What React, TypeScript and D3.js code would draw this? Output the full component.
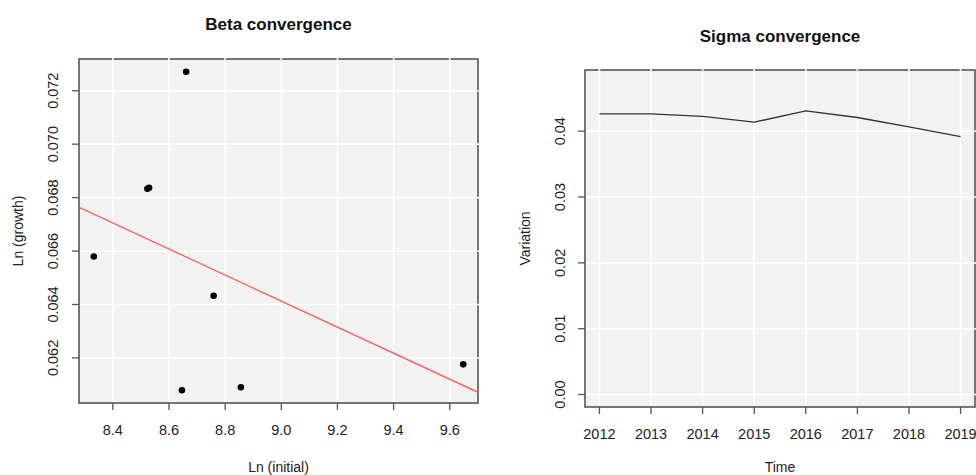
import React from 'react';
import * as d3 from 'd3';

const width = 976;
const height = 475;

// Beta convergence: ln(initial) vs ln(growth)
const betaInitial = [8.332, 8.523, 8.529, 8.646, 8.661, 8.759, 8.856, 9.648];
const betaGrowth = [0.065795, 0.06833, 0.068365, 0.06079, 0.07271, 0.064328, 0.0609, 0.06176];
const betaXTicks = [8.4, 8.6, 8.8, 9.0, 9.2, 9.4, 9.6];
const betaYTicks = [0.062, 0.064, 0.066, 0.068, 0.070, 0.072];

// Sigma convergence: variation per year
const sigmaYears = [2012, 2013, 2014, 2015, 2016, 2017, 2018, 2019];
const sigmaVariation = [0.04263, 0.04263, 0.04224, 0.04137, 0.04309, 0.04208, 0.04066, 0.03919];
const sigmaYTicks = [0, 0.01, 0.02, 0.03, 0.04];

const font = '"Liberation Sans", Arial, sans-serif';
const bg = '#f2f2f2';
const boxColor = '#555';
const textColor = '#222';

// R style 4% padding on each end
const pad = (lo: number, hi: number): [number, number] => {
  const r = (hi - lo) * 0.04;
  return [lo - r, hi + r];
};

// least squares fit for the red line
function fitLine(xs: number[], ys: number[]) {
  const mx = d3.mean(xs)!;
  const my = d3.mean(ys)!;
  let sxy = 0, sxx = 0;
  xs.forEach((x, i) => {
    sxy += (x - mx) * (ys[i] - my);
    sxx += (x - mx) * (x - mx);
  });
  const b = sxy / sxx;
  return { a: my - b * mx, b };
}

type Box = { x0: number; x1: number; y0: number; y1: number };

function Frame({ box, x, y, xTicks, yTicks, xFmt, yFmt, title, titleY, xLabel, yLabel, yLabelX, yTickX, children }: any) {
  const b: Box = box;
  return (
    <g fontFamily={font}>
      <rect x={b.x0} y={b.y0} width={b.x1 - b.x0} height={b.y1 - b.y0} fill={bg} />
      <rect x={b.x0} y={b.y0} width={b.x1 - b.x0} height={b.y1 - b.y0} fill="none" stroke={boxColor} strokeWidth={1.6} />
      {xTicks.map((t: number) => (
        <line key={'gx' + t} x1={x(t)} x2={x(t)} y1={b.y0 - 1} y2={b.y1 - 1} stroke="#fff" strokeWidth={1.6} />
      ))}
      {yTicks.map((t: number) => (
        <line key={'gy' + t} x1={b.x0 + 1} x2={b.x1 + 1} y1={y(t)} y2={y(t)} stroke="#fff" strokeWidth={1.6} />
      ))}
      {children}
      {xTicks.map((t: number) => (
        <g key={'tx' + t}>
          <line x1={x(t)} x2={x(t)} y1={b.y1} y2={b.y1 + 7} stroke={boxColor} strokeWidth={1.3} />
          <text x={x(t)} y={b.y1 + 32} textAnchor="middle" fontSize={14.5} fill={textColor}>{xFmt(t)}</text>
        </g>
      ))}
      {yTicks.map((t: number) => (
        <g key={'ty' + t}>
          <line x1={b.x0 - 7} x2={b.x0} y1={y(t)} y2={y(t)} stroke={boxColor} strokeWidth={1.3} />
          <text transform={`translate(${yTickX},${y(t)}) rotate(-90)`} textAnchor="middle" fontSize={14.5} fill={textColor}>{yFmt(t)}</text>
        </g>
      ))}
      <text x={(b.x0 + b.x1) / 2} y={titleY} textAnchor="middle" fontSize={17} fontWeight="bold" fill="#111">{title}</text>
      <text x={(b.x0 + b.x1) / 2} y={472} textAnchor="middle" fontSize={14} fill={textColor}>{xLabel}</text>
      <text transform={`translate(${yLabelX},${(b.y0 + b.y1) / 2}) rotate(-90)`} textAnchor="middle" fontSize={14} fill={textColor}>{yLabel}</text>
    </g>
  );
}

export default function App() {
  // left panel
  const lb: Box = { x0: 79, x1: 478, y0: 59, y1: 403 };
  const lx = d3.scaleLinear().domain(pad(d3.min(betaInitial)!, d3.max(betaInitial)!)).range([lb.x0, lb.x1]);
  const ly = d3.scaleLinear().domain(pad(d3.min(betaGrowth)!, d3.max(betaGrowth)!)).range([lb.y1, lb.y0]);
  const fit = fitLine(betaInitial, betaGrowth);
  const [dx0, dx1] = lx.domain();

  // right panel
  const rb: Box = { x0: 585, x1: 975, y0: 70, y1: 407 };
  const rx = d3.scaleLinear().domain(pad(d3.min(sigmaYears)!, d3.max(sigmaYears)!)).range([rb.x0, rb.x1]);
  const ry = d3.scaleLinear().domain(pad(0, d3.max(sigmaVariation)! * 1.1)).range([rb.y1, rb.y0]);
  const sigmaLine = d3.line<number>().x((_, i) => rx(sigmaYears[i])).y(v => ry(v))(sigmaVariation);

  return (
    <svg width={width} height={height} style={{ position: 'absolute', left: 0, top: 0, background: '#fff' }}>
      <Frame box={lb} x={lx} y={ly} xTicks={betaXTicks} yTicks={betaYTicks}
        xFmt={d3.format('.1f')} yFmt={d3.format('.3f')}
        title="Beta convergence" titleY={30} xLabel="Ln (initial)" yLabel="Ln (growth)"
        yLabelX={23} yTickX={58}>
        <clipPath id="clipL"><rect x={lb.x0} y={lb.y0} width={lb.x1 - lb.x0} height={lb.y1 - lb.y0} /></clipPath>
        <line clipPath="url(#clipL)" x1={lx(dx0)} y1={ly(fit.a + fit.b * dx0)} x2={lx(dx1)} y2={ly(fit.a + fit.b * dx1)}
          stroke="#ff5a5a" strokeWidth={1.3} />
        {betaInitial.map((v, i) => (
          <circle key={i} cx={lx(v)} cy={ly(betaGrowth[i])} r={3.3} fill="#000" />
        ))}
      </Frame>
      <Frame box={rb} x={rx} y={ry} xTicks={sigmaYears} yTicks={sigmaYTicks}
        xFmt={(t: number) => String(t)} yFmt={d3.format('.2f')}
        title="Sigma convergence" titleY={42} xLabel="Time" yLabel="Variation"
        yLabelX={530} yTickX={565}>
        <path d={sigmaLine!} fill="none" stroke="#333" strokeWidth={1.3} />
      </Frame>
    </svg>
  );
}
